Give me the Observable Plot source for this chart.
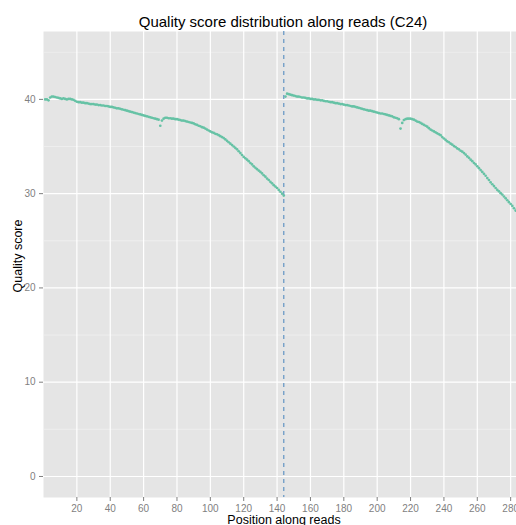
<!DOCTYPE html>
<html>
<head>
<meta charset="utf-8">
<script src="https://cdn.jsdelivr.net/npm/d3@7"></script>
<script src="https://cdn.jsdelivr.net/npm/@observablehq/plot@0.6"></script>
<style>
  html, body { margin: 0; padding: 0; background: white; }
  #title { box-sizing: border-box; width: 516px; height: 31px; padding-top: 14px; padding-left: 50px;
           font-family: "Liberation Sans", Arial, sans-serif; font-size: 15px; line-height: 15px;
           text-align: center; color: #000; white-space: nowrap; }
  svg { display: block; }
</style>
</head>
<body>
<div id="title">Quality score distribution along reads (C24)</div>
<div id="chart"></div>
<script>
const titleText = "Quality score distribution along reads (C24)";
const xLabel = "Position along reads";
const yLabel = "Quality score";
const xTicks = [20, 40, 60, 80, 100, 120, 140, 160, 180, 200, 220, 240, 260, 280];
const yTicks = [0, 10, 20, 30, 40];
const yMinor = [5, 15, 25, 35, 45];
const readBoundary = [144];
const read1Start = 1;
const read2Start = 145;

// Mean quality per position, first read (positions 1..144)
const read1Scores = [
  40.0, 40.0, 39.9, 40.2, 40.3, 40.3, 40.25, 40.2, 40.15, 40.1,
  40.05, 40.1, 40.05, 40.0, 40.05, 40.05, 40.0, 39.95, 39.85, 39.75,
  39.7, 39.7, 39.65, 39.65, 39.6, 39.6, 39.55, 39.5, 39.5, 39.5,
  39.45, 39.45, 39.4, 39.4, 39.35, 39.35, 39.3, 39.3, 39.25, 39.2,
  39.2, 39.15, 39.1, 39.05, 39.05, 39.0, 38.95, 38.9, 38.85, 38.8,
  38.75, 38.7, 38.65, 38.6, 38.55, 38.5, 38.45, 38.4, 38.35, 38.3,
  38.25, 38.2, 38.15, 38.1, 38.05, 38.0, 37.95, 37.9, 37.85, 37.2,
  37.75, 37.95, 38.05, 38.05, 38.0, 38.0, 37.95, 37.95, 37.9, 37.9,
  37.85, 37.8, 37.75, 37.75, 37.7, 37.65, 37.6, 37.55, 37.5, 37.45,
  37.35, 37.3, 37.2, 37.15, 37.05, 37.0, 36.9, 36.8, 36.7, 36.6,
  36.5, 36.45, 36.35, 36.3, 36.2, 36.1, 36.0, 35.9, 35.75, 35.6,
  35.45, 35.3, 35.15, 35.0, 34.85, 34.7, 34.5, 34.3, 34.1, 33.9,
  33.75, 33.6, 33.45, 33.25, 33.1, 32.9, 32.75, 32.6, 32.45, 32.3,
  32.15, 31.95, 31.8, 31.6, 31.45, 31.25, 31.1, 30.9, 30.75, 30.6,
  30.4, 30.2, 30.0, 29.8
];

// Mean quality per position, second read (positions 145..283 visible)
const read2Scores = [
  40.3, 40.6, 40.55, 40.5, 40.45, 40.4, 40.35, 40.3, 40.3, 40.25,
  40.2, 40.2, 40.15, 40.1, 40.1, 40.05, 40.05, 40.0, 40.0, 39.95,
  39.95, 39.9, 39.9, 39.85, 39.8, 39.8, 39.75, 39.7, 39.7, 39.65,
  39.6, 39.6, 39.55, 39.5, 39.5, 39.45, 39.4, 39.4, 39.35, 39.3,
  39.25, 39.25, 39.2, 39.15, 39.1, 39.05, 39.0, 38.95, 38.9, 38.85,
  38.8, 38.8, 38.75, 38.7, 38.65, 38.6, 38.55, 38.5, 38.5, 38.45,
  38.4, 38.35, 38.3, 38.25, 38.2, 38.1, 38.05, 38.0, 37.9, 36.9,
  37.5, 37.8, 37.9, 37.95, 37.95, 37.95, 37.9, 37.85, 37.75, 37.65,
  37.6, 37.5, 37.4, 37.3, 37.2, 37.1, 36.95, 36.8, 36.7, 36.6,
  36.5, 36.4, 36.3, 36.2, 36.0, 35.85, 35.7, 35.55, 35.45, 35.3,
  35.2, 35.05, 34.95, 34.8, 34.7, 34.55, 34.45, 34.3, 34.15, 33.95,
  33.8, 33.6, 33.45, 33.25, 33.1, 32.9, 32.7, 32.5, 32.3, 32.1,
  31.9, 31.65, 31.45, 31.2, 31.0, 30.8, 30.6, 30.4, 30.25, 30.05,
  29.9, 29.7, 29.5, 29.3, 29.1, 28.9, 28.7, 28.45, 28.2
];

const data = [
  ...read1Scores.map((q, i) => ({pos: read1Start + i, q})),
  ...read2Scores.map((q, i) => ({pos: read2Start + i, q}))
];

const font = "'Liberation Sans', Arial, Helvetica, sans-serif";

const chart = Plot.plot({
  width: 516,
  height: 494,
  marginTop: 0,
  marginRight: 0,
  marginBottom: 28,
  marginLeft: 43,
  x: {domain: [0, 283.5]},
  y: {domain: [-2.23, 47.2]},
  style: {fontFamily: font, background: "white", overflow: "hidden"},
  marks: [
    Plot.frame({fill: "#E5E5E5", stroke: null}),
    Plot.gridY(yMinor, {stroke: "#F2F2F2", strokeOpacity: 1, strokeWidth: 0.7}),
    Plot.gridY(yTicks, {stroke: "#FFFFFF", strokeOpacity: 1, strokeWidth: 1.2}),
    Plot.gridX(xTicks, {stroke: "#FFFFFF", strokeOpacity: 1, strokeWidth: 1.2}),
    Plot.ruleX(readBoundary, {stroke: "#6C9BC6", strokeWidth: 1.3, strokeDasharray: "4,4"}),
    Plot.dot(data, {x: "pos", y: "q", r: 1.35, fill: "#66C2A5", stroke: null}),
    Plot.axisX(xTicks, {tickSize: 4, tickPadding: 3, stroke: "#7F7F7F", fill: "#7F7F7F", fontSize: 10, label: null}),
    Plot.axisY(yTicks, {tickSize: 4, tickPadding: 4, stroke: "#7F7F7F", fill: "#7F7F7F", fontSize: 10, label: null}),
    Plot.text([xLabel], {frameAnchor: "bottom", dy: 26, dx: 4, fontSize: 12.5, fill: "#000"}),
    Plot.text([yLabel], {frameAnchor: "left", dx: -26, dy: 28, rotate: -90, fontSize: 12.5, fill: "#000"})
  ]
});
document.getElementById("chart").appendChild(chart);
</script>
</body>
</html>
